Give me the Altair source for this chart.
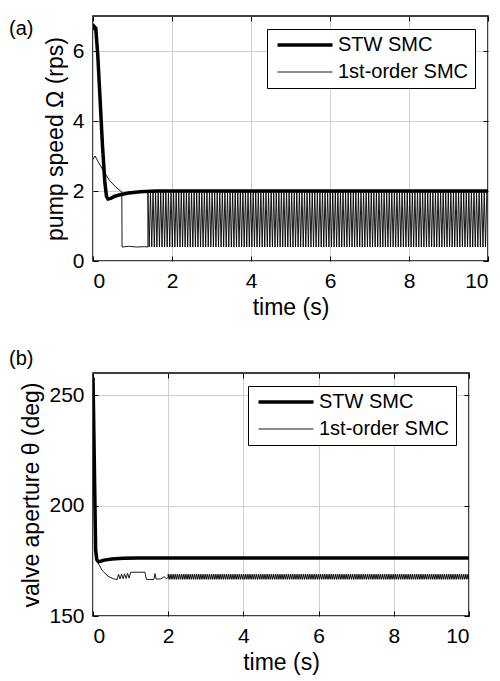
import altair as alt
import pandas as pd

SERIES = ["STW SMC", "1st-order SMC"]

# ---------- panel (a): pump speed ----------
a_stw_t = [0.0, 0.03, 0.07, 0.12, 0.18, 0.24, 0.30, 0.34, 0.38, 0.45, 0.55, 0.71, 0.9, 1.2, 1.6, 2.5, 10.0]
a_stw_y = [6.6, 6.7, 6.65, 5.9, 4.6, 3.3, 2.25, 1.85, 1.77, 1.79, 1.85, 1.9, 1.94, 1.98, 2.0, 2.0, 2.0]

a_fo_t = [0.0, 0.05, 0.15, 0.28, 0.42, 0.58, 0.73, 0.735, 0.9, 1.1, 1.3, 1.39]
a_fo_y = [2.9, 3.0, 2.8, 2.54, 2.3, 2.11, 1.97, 0.4, 0.42, 0.4, 0.41, 0.4]

# chattering of the 1st-order SMC
a_chat_start, a_chat_end, a_chat_period = 1.39, 10.0, 0.065
a_chat_levels = [2.0, 0.4]

# ---------- panel (b): valve aperture ----------
b_stw_t = [0.0, 0.03, 0.07, 0.1, 0.14, 0.2, 0.3, 0.5, 0.8, 1.2, 10.0]
b_stw_y = [258.0, 225.0, 180.0, 175.5, 174.6, 174.8, 175.3, 175.8, 176.1, 176.2, 176.2]

b_fo_t = [0.0, 0.03, 0.08, 0.15, 0.25, 0.4, 0.55, 0.64, 0.68, 0.72, 0.76, 0.8, 0.84, 0.88, 0.92, 0.96, 1.0,
          1.05, 1.12, 1.38, 1.42, 1.5, 1.62, 1.65, 1.68, 1.8, 1.9, 1.95, 2.0]
b_fo_y = [258.0, 222.0, 178.0, 173.5, 170.5, 168.0, 166.8, 166.5, 168.9, 166.8, 169.0, 166.9, 169.1, 167.0,
          169.3, 167.2, 169.8, 169.8, 169.8, 169.8, 166.6, 166.5, 166.6, 169.2, 166.7, 166.8, 167.8, 166.8, 167.5]

b_chat_start, b_chat_end, b_chat_period = 2.0, 10.0, 0.05
b_chat_levels = [168.9, 166.6]

X_TICKS = [0, 2, 4, 6, 8, 10]
A_Y_TICKS = [0, 2, 4, 6]
B_Y_TICKS = [150, 200, 250]


def chatter(start, end, period, levels):
    ts, ys = [], []
    half = period / 2.0
    t = start
    k = 0
    while t <= end + 1e-9:
        ts.append(round(t, 4))
        ys.append(levels[k % 2])
        t += half
        k += 1
    return ts, ys


def build(stw_t, stw_y, fo_t, fo_y, chat):
    ct, cy = chatter(*chat)
    rows = []
    for i, (t, y) in enumerate(zip(stw_t, stw_y)):
        rows.append({"t": t, "v": y, "series": SERIES[0], "idx": i})
    all_t = fo_t + ct
    all_y = fo_y + cy
    for i, (t, y) in enumerate(zip(all_t, all_y)):
        rows.append({"t": t, "v": y, "series": SERIES[1], "idx": i})
    return pd.DataFrame(rows)


df_a = build(a_stw_t, a_stw_y, a_fo_t, a_fo_y, (a_chat_start, a_chat_end, a_chat_period, a_chat_levels))
df_b = build(b_stw_t, b_stw_y, b_fo_t, b_fo_y, (b_chat_start, b_chat_end, b_chat_period, b_chat_levels))

FONT = "Liberation Sans"

legend = alt.Legend(
    title=None, orient="top-right", offset=13, symbolType="M-1,0L9,0", symbolSize=121,
    labelFontSize=20, labelFont=FONT, labelColor="black", strokeColor="black",
    fillColor="white", padding=6, rowPadding=7, labelOffset=45, symbolStrokeColor="black",
)


def tick_axis(orient, values):
    return alt.Axis(orient=orient, values=values, offset=-5, tickSize=5, tickColor="black",
                    tickWidth=1, labels=False, grid=False, title=None, domain=False)


def panel(df, ydom, yticks, ytitle, label, w, h, label_y):
    xs = alt.Scale(domain=[0, 10], nice=False)
    ys = alt.Scale(domain=ydom, nice=False)
    lines = alt.Chart(df).mark_line(clip=True, strokeJoin="miter").encode(
        x=alt.X("t:Q", scale=xs, axis=alt.Axis(values=X_TICKS, title="time (s)")),
        y=alt.Y("v:Q", scale=ys, axis=alt.Axis(values=yticks, title=ytitle)),
        color=alt.Color("series:N", scale=alt.Scale(domain=SERIES, range=["black", "black"]), legend=legend),
        strokeWidth=alt.StrokeWidth("series:N", scale=alt.Scale(domain=SERIES, range=[3.5, 0.9]), legend=legend),
        detail="series:N",
        order=alt.Order("idx:Q"),
    )
    ticks1 = alt.Chart(df).mark_point(opacity=0, size=0).encode(
        x=alt.X("t:Q", scale=xs, axis=tick_axis("top", X_TICKS)),
        y=alt.Y("v:Q", scale=ys, axis=tick_axis("right", yticks)),
    )
    ticks2 = alt.Chart(df).mark_point(opacity=0, size=0).encode(
        x=alt.X("t:Q", scale=xs, axis=tick_axis("bottom", X_TICKS)),
        y=alt.Y("v:Q", scale=ys, axis=tick_axis("left", yticks)),
    )
    txt = alt.Chart(pd.DataFrame({"s": [label]})).mark_text(
        align="left", baseline="middle", fontSize=20, font=FONT, color="black"
    ).encode(x=alt.value(-84), y=alt.value(label_y), text="s:N")
    return alt.layer(lines, ticks1, ticks2, txt).resolve_axis(
        x="independent", y="independent"
    ).properties(width=w, height=h)


top = panel(df_a, [0, 7], A_Y_TICKS, "pump speed Ω (rps)", "(a)", 395, 245, 13)
bot = panel(df_b, [150, 260], B_Y_TICKS, "valve aperture θ (deg)", "(b)", 376, 243, -14)

chart = alt.vconcat(top, bot, spacing=28).resolve_legend(
    color="independent", strokeWidth="independent"
).resolve_scale(
    color="independent", strokeWidth="independent", x="independent", y="independent"
).properties(
    padding={"top": 6, "left": 0, "right": 0, "bottom": 0}
).configure_view(
    stroke="black", strokeWidth=1.5
).configure_axis(
    grid=True, gridColor="#d0d0d0", gridWidth=1, domain=False,
    tickSize=0, labelFontSize=21, titleFontSize=23, labelFont=FONT, titleFont=FONT,
    labelColor="black", titleColor="black", titleFontWeight="normal",
    labelPadding=9,
).configure_axisY(titlePadding=5).configure_axisX(titlePadding=5)

chart.save("out.html", embed_options={"renderer": "svg", "actions": False})
